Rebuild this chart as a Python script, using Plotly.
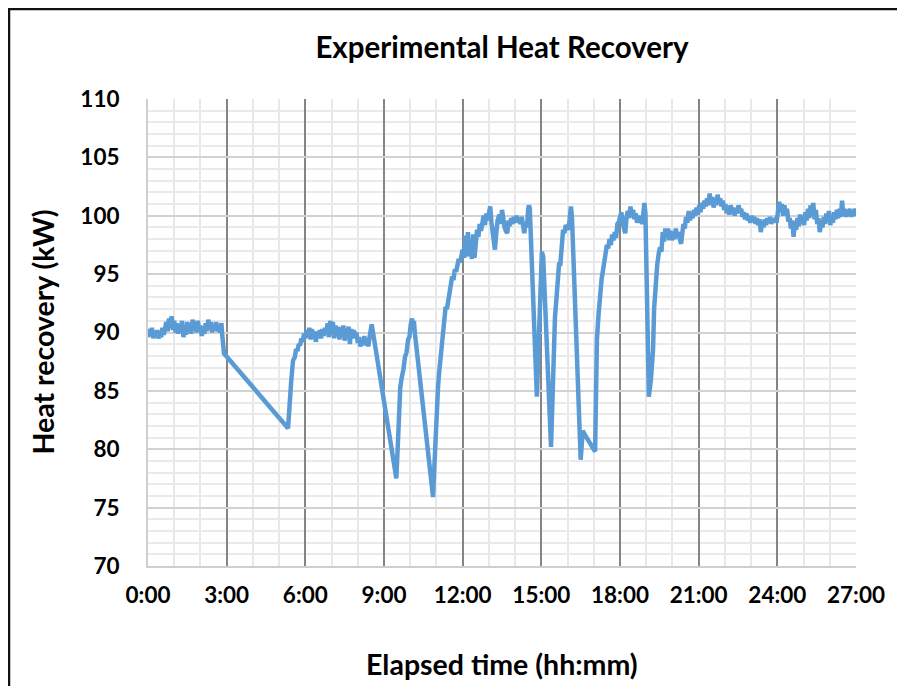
import plotly.graph_objects as go

# Elapsed time in hours
hours = [
    0.0, 0.05, 0.1, 0.15, 0.2, 0.25, 0.3, 0.35, 0.4, 0.45, 0.5, 0.55, 0.6, 0.65, 0.7, 0.75, 0.8, 0.85, 0.9, 0.95,
    1.0, 1.05, 1.1, 1.15, 1.2, 1.25, 1.3, 1.35, 1.4, 1.45, 1.5, 1.55, 1.6, 1.65, 1.7, 1.75, 1.8, 1.85, 1.9, 1.95,
    2.0, 2.05, 2.1, 2.15, 2.2, 2.25, 2.3, 2.35, 2.4, 2.45, 2.5, 2.55, 2.6, 2.65, 2.7, 2.75, 2.8, 2.83, 2.85, 2.9,
    5.34, 5.36, 5.42, 5.46, 5.53, 5.6, 5.65, 5.7, 5.75, 5.8, 5.85, 5.9, 5.95, 6.0, 6.05, 6.1, 6.15,
    6.2, 6.25, 6.3, 6.35, 6.4, 6.45, 6.5, 6.55, 6.6, 6.65, 6.7, 6.75, 6.8, 6.85, 6.9, 6.95,
    7.0, 7.05, 7.1, 7.15, 7.2, 7.25, 7.3, 7.35, 7.4, 7.45, 7.5, 7.55, 7.6, 7.65, 7.7, 7.75, 7.8, 7.85, 7.9, 7.95,
    8.0, 8.05, 8.1, 8.15, 8.2, 8.25, 8.3, 8.35, 8.4, 8.45, 8.5, 8.53, 8.56,
    9.47, 9.52, 9.58, 9.62, 9.68, 9.74, 9.8, 9.86, 9.92, 9.97, 10.02, 10.07, 10.11, 10.14, 10.18, 10.24, 10.3,
    10.87, 10.92, 10.95, 11.0, 11.06, 11.1, 11.15, 11.2, 11.25, 11.3, 11.35, 11.4, 11.45, 11.5, 11.55, 11.6, 11.65,
    11.7, 11.75, 11.8, 11.85, 11.9, 11.95, 12.0, 12.05, 12.1, 12.15, 12.2, 12.25, 12.3, 12.35, 12.4, 12.45, 12.5,
    12.55, 12.6, 12.65, 12.7, 12.75, 12.8, 12.85, 12.9, 12.95, 13.0, 13.05, 13.1, 13.15, 13.2, 13.23, 13.28, 13.33,
    13.4, 13.45, 13.5, 13.55, 13.6, 13.65, 13.7, 13.75, 13.8, 13.85, 13.9, 13.95, 14.0, 14.05, 14.1, 14.15, 14.2,
    14.25, 14.3, 14.35, 14.4, 14.45, 14.5, 14.53, 14.56,
    14.83, 15.02, 15.07, 15.37, 15.42, 15.52, 15.6, 15.68, 15.72, 15.78, 15.83, 15.88, 15.93, 15.98, 16.03, 16.08,
    16.13, 16.17, 16.5, 16.58, 16.62, 17.05, 17.12, 17.18, 17.24, 17.3, 17.35, 17.4, 17.45, 17.5, 17.55, 17.6,
    17.65, 17.7, 17.75, 17.8, 17.85, 17.9, 17.96, 18.0, 18.05, 18.1, 18.15, 18.2, 18.25, 18.3, 18.35, 18.4, 18.45,
    18.5, 18.55, 18.6, 18.65, 18.7, 18.75, 18.8, 18.85, 18.9, 18.93, 18.97,
    19.1, 19.18, 19.26, 19.3, 19.37, 19.42, 19.48, 19.53, 19.58, 19.63, 19.68, 19.73, 19.78, 19.83, 19.88, 19.93,
    19.98, 20.03, 20.08, 20.13, 20.18, 20.23, 20.28, 20.33, 20.37, 20.42, 20.47, 20.52, 20.57, 20.62, 20.67, 20.72,
    20.77, 20.82, 20.87, 20.92, 20.97, 21.02, 21.07, 21.12, 21.17, 21.22, 21.27, 21.32, 21.37, 21.42, 21.47, 21.52,
    21.57, 21.62, 21.67, 21.72, 21.77, 21.82, 21.87, 21.92, 21.97, 22.02, 22.07, 22.12, 22.17, 22.22, 22.27, 22.32,
    22.37, 22.42, 22.47, 22.52, 22.57, 22.62, 22.67, 22.72, 22.77, 22.82, 22.87, 22.92, 22.97, 23.02, 23.07, 23.12,
    23.17, 23.22, 23.27, 23.32, 23.37, 23.42, 23.47, 23.52, 23.57, 23.62, 23.67, 23.72, 23.77, 23.82, 23.87, 23.92,
    23.97, 24.02, 24.07, 24.12, 24.17, 24.22, 24.27, 24.32, 24.37, 24.42, 24.47, 24.52, 24.57, 24.62, 24.67, 24.72,
    24.77, 24.82, 24.87, 24.92, 24.97, 25.02, 25.07, 25.12, 25.17, 25.22, 25.27, 25.32, 25.37, 25.42, 25.47, 25.52,
    25.57, 25.62, 25.67, 25.72, 25.77, 25.82, 25.87, 25.92, 25.97, 26.02, 26.07, 26.12, 26.17, 26.22, 26.27, 26.32,
    26.37, 26.42, 26.47, 26.52, 26.57, 26.62, 26.67, 26.72, 26.77, 26.82, 26.87, 26.92, 26.97, 27.0,
]

# Heat recovery in kW
heat_kw = [
    89.6, 90.3, 89.7, 90.4, 89.5, 90.1, 89.6, 90.2, 89.5, 89.9, 89.6, 90.4, 89.8, 90.6, 90.9, 90.1, 91.2, 90.4, 91.4, 90.2,
    91.0, 90.0, 90.8, 89.9, 90.7, 90.3, 91.0, 89.6, 90.5, 89.8, 90.9, 90.1, 90.6, 89.9, 91.1, 90.3, 90.9, 90.0, 91.0, 90.2,
    90.6, 89.7, 90.4, 89.9, 90.8, 90.1, 91.1, 90.4, 90.9, 90.0, 90.7, 90.2, 90.9, 90.1, 90.6, 90.0, 90.8, 89.8, 88.8, 88.2,
    81.8, 82.8, 84.2, 85.8, 87.6, 87.9, 88.6, 88.4, 89.0, 88.9, 89.5, 89.2, 89.9, 89.5, 90.2, 89.6, 90.4,
    89.4, 90.3, 89.5, 90.1, 89.2, 90.0, 89.6, 90.2, 89.5, 90.3, 89.7, 90.4, 89.9, 90.8, 89.6, 91.0,
    89.8, 90.9, 89.5, 90.6, 89.7, 90.5, 89.4, 90.4, 89.6, 90.6, 89.3, 90.2, 89.8, 90.5, 89.0, 90.3, 89.5, 90.2, 89.7, 90.0,
    89.1, 89.6, 88.8, 89.4, 89.0, 89.7, 88.9, 89.5, 88.8, 89.6, 90.2, 90.7, 90.3,
    77.5, 80.0, 84.0, 85.3, 86.2, 86.8, 87.9, 88.3, 89.4, 89.6, 90.7, 91.2, 90.6, 91.0, 89.9, 88.7, 87.1,
    75.9, 78.5, 80.5, 83.0, 85.3, 86.5, 87.6, 89.0, 89.4, 91.0, 92.2, 92.0, 92.8, 93.3, 94.4, 94.8, 94.5,
    95.4, 95.2, 95.9, 96.3, 96.0, 96.8, 97.1, 96.4, 98.3, 96.5, 98.6, 96.6, 97.5, 96.3, 98.4, 96.4, 97.3,
    98.8, 98.2, 99.3, 98.7, 99.4, 100.0, 99.2, 100.2, 99.6, 100.4, 100.8, 99.4, 98.6, 97.6, 97.1, 98.5, 99.6,
    100.1, 99.3, 100.5, 99.4, 99.0, 98.7, 98.5, 99.6, 99.1, 99.8, 99.3, 99.9, 99.4, 100.0, 99.5, 99.8, 99.3,
    99.9, 99.0, 98.5, 99.4, 99.0, 100.6, 100.9, 100.6,
    84.5, 96.9, 96.5, 80.2, 84.0, 91.3, 93.6, 96.0, 95.7, 97.4, 98.8, 98.5, 99.2, 99.0, 98.8, 99.7,
    100.8, 99.8, 79.1, 81.6, 81.4, 79.8, 89.4, 91.5, 93.6, 94.6, 95.3, 96.3, 96.8, 97.5, 97.2, 98.0,
    97.5, 98.4, 97.9, 98.6, 98.1, 99.3, 99.5, 99.9, 100.3, 99.4, 99.0, 98.5, 99.9, 100.4, 99.8, 100.8, 99.9,
    100.5, 99.7, 100.2, 99.4, 100.0, 99.4, 99.7, 99.3, 100.9, 101.1, 100.2,
    84.5, 86.0, 88.5, 92.0, 95.1, 95.8, 96.8, 97.3, 96.9, 98.6, 97.8, 98.9, 98.2, 98.9, 97.9, 98.7,
    97.9, 98.6, 98.0, 98.9, 98.2, 98.6, 98.0, 97.6, 98.4, 99.3, 98.9, 99.9, 99.4, 100.4, 99.6, 100.2,
    99.8, 100.5, 100.0, 100.7, 100.1, 100.9, 100.3, 101.1, 100.6, 101.3, 100.8, 101.5, 100.9, 101.9, 101.0, 101.6,
    100.7, 101.5, 100.9, 101.8, 101.2, 101.5, 100.8, 101.3, 100.5, 101.0, 100.2, 100.8, 100.1, 100.9, 100.3, 100.7,
    100.0, 100.6, 100.2, 100.9, 100.4, 100.6, 99.9, 100.3, 99.7, 100.2, 99.6, 99.9, 99.4, 100.0, 99.5, 99.9,
    99.3, 99.8, 99.2, 99.7, 98.6, 99.5, 99.0, 99.7, 99.2, 99.8, 99.4, 99.9, 99.3, 99.7, 99.5, 99.8,
    99.4, 100.2, 101.2, 100.3, 101.0, 100.0, 100.9, 100.1, 100.6, 99.5, 99.8, 98.9, 99.6, 98.2, 99.5, 98.8,
    99.8, 99.1, 100.1, 99.4, 99.9, 99.2, 100.3, 99.6, 100.6, 99.8, 100.9, 100.0, 101.1, 99.7, 100.5, 99.3,
    99.8, 98.6, 99.5, 99.0, 99.9, 99.3, 100.2, 99.5, 100.4, 99.2, 99.8, 99.4, 100.3, 99.7, 100.5, 99.8,
    100.6, 99.9, 101.3, 100.0, 100.6, 99.9, 100.5, 100.0, 100.6, 99.9, 100.5, 100.0, 100.6, 100.2,
]

x_tick_vals = [0, 3, 6, 9, 12, 15, 18, 21, 24, 27]
x_tick_text = ["0:00", "3:00", "6:00", "9:00", "12:00", "15:00", "18:00", "21:00", "24:00", "27:00"]
y_tick_vals = [70, 75, 80, 85, 90, 95, 100, 105, 110]

FONT = "Lato, 'Open Sans', sans-serif"

# page has an 8px body margin, so the figure is laid out 8px up/left of page coords
L, T, PW, PH = 140, 91, 708, 467
W, H = 905, 686

fig = go.Figure()
fig.add_trace(go.Scatter(
    x=hours, y=heat_kw, mode="lines",
    line=dict(color="#5B9BD5", width=4.5),
    showlegend=False, hoverinfo="x+y",
))

fig.update_layout(
    width=W, height=H,
    margin=dict(l=L, r=W - L - PW, t=T, b=H - T - PH),
    paper_bgcolor="white", plot_bgcolor="white",
    font=dict(family=FONT, color="black"),
    title=dict(
        text="<b>Experimental Heat Recovery</b>",
        x=0.5, xref="paper", xanchor="center",
        y=1 - 40 / H, yref="container", yanchor="middle",
        font=dict(size=29.5, family=FONT, color="black"),
    ),
    xaxis=dict(
        range=[0, 27],
        tickmode="array", tickvals=x_tick_vals, ticktext=x_tick_text,
        tickfont=dict(size=22.5, family=FONT, color="black", weight="bold"),
        showgrid=True, gridcolor="#858585", gridwidth=2,
        minor=dict(dtick=1, tick0=0, showgrid=True, gridcolor="#e8e8e8", gridwidth=2),
        zeroline=False, showline=True, linecolor="#cfcfcf", linewidth=2,
        ticks="", ticklabelstandoff=8,
    ),
    yaxis=dict(
        range=[70, 110],
        tickmode="array", tickvals=y_tick_vals,
        tickfont=dict(size=22.5, family=FONT, color="black", weight="bold"),
        showgrid=True, gridcolor="#d2d2d2", gridwidth=2,
        minor=dict(dtick=1, tick0=70, showgrid=True, gridcolor="#eaeaea", gridwidth=2),
        zeroline=False, showline=True, linecolor="#cfcfcf", linewidth=2,
        ticks="", ticklabelstandoff=22,
    ),
    annotations=[
        dict(text="<b>Elapsed time (hh:mm)</b>", xref="paper", yref="paper",
             x=0.5, y=0, xanchor="center", yanchor="middle", yshift=-98,
             showarrow=False, font=dict(size=28.5, family=FONT, color="black")),
        dict(text="<b>Heat recovery (kW)</b>", xref="paper", yref="paper",
             x=0, y=0.5, xanchor="center", yanchor="middle", xshift=-106,
             textangle=-90, showarrow=False, font=dict(size=28.5, family=FONT, color="black")),
    ],
    shapes=[dict(
        type="rect", xref="paper", yref="paper",
        x0=(1 - L) / PW, x1=(W + 20 - L) / PW,
        y0=(T + PH - (H + 20)) / PH, y1=(T + PH - 1) / PH,
        line=dict(color="#111111", width=2.5), fillcolor="rgba(0,0,0,0)", layer="below",
    )],
)

fig.write_html("out.html")
